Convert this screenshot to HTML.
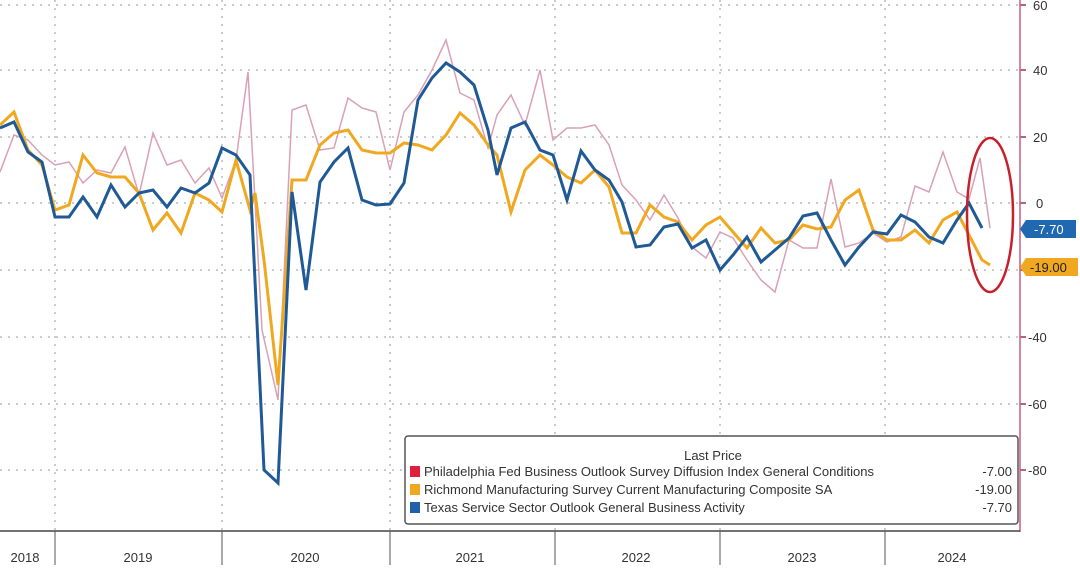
<!DOCTYPE html>
<html><head><meta charset="utf-8"><style>
body{margin:0;background:#fff;width:1080px;height:565px;overflow:hidden;font-family:"Liberation Sans",sans-serif}
</style></head><body>
<svg width="1080" height="565" xmlns="http://www.w3.org/2000/svg" font-family="Liberation Sans, sans-serif">
<g stroke="#bbb" stroke-width="1.5" stroke-dasharray="2,6">
<line x1="0" y1="5" x2="1020" y2="5"/><line x1="0" y1="70" x2="1020" y2="70"/><line x1="0" y1="137" x2="1020" y2="137"/><line x1="0" y1="203" x2="1020" y2="203"/><line x1="0" y1="270" x2="1020" y2="270"/><line x1="0" y1="337" x2="1020" y2="337"/><line x1="0" y1="404" x2="1020" y2="404"/><line x1="0" y1="470" x2="1020" y2="470"/>
<line x1="55" y1="0" x2="55" y2="530"/><line x1="222" y1="0" x2="222" y2="530"/><line x1="390" y1="0" x2="390" y2="530"/><line x1="555" y1="0" x2="555" y2="530"/><line x1="720" y1="0" x2="720" y2="530"/><line x1="885" y1="0" x2="885" y2="530"/>
</g>
<line x1="1020" y1="0" x2="1020" y2="532" stroke="#c06080" stroke-width="1.5"/>
<line x1="0" y1="531" x2="1020" y2="531" stroke="#444" stroke-width="1.5"/>
<g stroke="#555" stroke-width="1"><line x1="55" y1="531" x2="55" y2="565"/><line x1="222" y1="531" x2="222" y2="565"/><line x1="390" y1="531" x2="390" y2="565"/><line x1="555" y1="531" x2="555" y2="565"/><line x1="720" y1="531" x2="720" y2="565"/><line x1="885" y1="531" x2="885" y2="565"/></g>
<g font-size="13" fill="#333" text-anchor="middle"><text x="25" y="562">2018</text><text x="138" y="562">2019</text><text x="305" y="562">2020</text><text x="470" y="562">2021</text><text x="636" y="562">2022</text><text x="802" y="562">2023</text><text x="952" y="562">2024</text></g>
<g font-size="13" fill="#333"><text x="1033" y="10">60</text><text x="1033" y="75">40</text><text x="1033" y="142">20</text><text x="1036" y="208">0</text><text x="1028" y="275">-20</text><text x="1028" y="342">-40</text><text x="1028" y="409">-60</text><text x="1028" y="475">-80</text></g>
<g stroke="#c06080" stroke-width="2"><line x1="1020" y1="5" x2="1026" y2="5"/><line x1="1020" y1="70" x2="1026" y2="70"/><line x1="1020" y1="137" x2="1026" y2="137"/><line x1="1020" y1="203" x2="1026" y2="203"/><line x1="1020" y1="270" x2="1026" y2="270"/><line x1="1020" y1="337" x2="1026" y2="337"/><line x1="1020" y1="404" x2="1026" y2="404"/><line x1="1020" y1="470" x2="1026" y2="470"/></g>
<polyline fill="none" stroke="#d9a0b8" stroke-width="1.5" points="0,172 14,135 28,140 42,155 55,165 69,162 83,183 97,170 111,173 125,147 139,195 153,133 167,165 181,160 195,183 209,168 222,198 236,160 248,72 262,330 278,400 292,110 306,105 320,150 334,148 348,98 362,108 376,112 390,170 404,112 418,95 432,70 446,40 460,93 474,100 488,148 497,115 511,95 525,125 540,70 553,140 567,128 581,128 595,125 609,145 622,185 636,200 650,220 664,195 678,218 692,247 706,258 720,232 733,238 747,260 761,280 775,292 789,240 803,248 817,248 831,179 845,247 859,243 873,233 887,242 901,237 915,186 929,192 943,152 957,192 969,199 980,158 990,228"/>
<polyline fill="none" stroke="#f0a820" stroke-width="3" points="0,125 14,112 28,150 42,165 55,210 69,205 83,155 97,173 111,177 125,177 139,193 153,230 167,213 181,233 195,193 209,200 222,212 236,160 250,210 255,193 264,260 278,385 292,180 306,180 320,145 334,133 348,130 362,150 376,153 390,153 404,143 418,145 432,150 446,135 460,113 474,125 488,145 497,155 511,212 525,170 540,155 553,165 567,177 581,183 595,170 609,187 622,233 636,233 650,205 664,217 678,222 692,240 706,225 720,217 733,232 747,248 761,228 775,243 789,240 803,225 817,229 831,227 845,200 859,190 873,230 887,240 901,240 915,230 929,243 943,220 957,212 969,235 982,260 990,265"/>
<polyline fill="none" stroke="#1f5a96" stroke-width="3" points="0,128 14,122 28,152 42,162 55,217 69,217 83,197 97,217 111,185 125,207 139,193 153,190 167,207 181,188 195,193 209,183 222,148 236,155 250,175 264,470 278,483 292,192 306,290 320,182 334,162 348,148 362,200 376,205 390,204 404,183 418,100 432,78 446,63 460,72 474,85 488,130 497,175 511,128 525,122 540,150 553,155 567,200 581,151 595,170 609,180 622,202 636,247 650,245 664,227 678,224 692,248 706,240 720,270 733,255 747,237 761,262 775,250 789,238 803,216 817,213 831,240 845,265 859,247 873,232 887,234 901,215 915,222 929,237 943,243 957,220 969,203 982,228"/>
<ellipse cx="990" cy="215" rx="23" ry="77" fill="none" stroke="#c8202a" stroke-width="2.5"/>
<path d="M1020,229 l6,-9 h50 v18 h-50z" fill="#2068b0"/><text x="1034" y="234" font-size="13" fill="#fff">-7.70</text>
<path d="M1020,267 l6,-9 h52 v18 h-52z" fill="#f0a820"/><text x="1030" y="272" font-size="13" fill="#222">-19.00</text>
<rect x="405" y="436" width="613" height="88" rx="3" fill="#fff" stroke="#555" stroke-width="1.5"/>
<text x="713" y="460" font-size="13" fill="#333" text-anchor="middle">Last Price</text>
<rect x="410" y="466" width="10" height="11" fill="#e0203a"/><rect x="410" y="484" width="10" height="11" fill="#f0a820"/><rect x="410" y="502" width="10" height="11" fill="#2060a8"/>
<g font-size="13" fill="#333"><text x="424" y="476">Philadelphia Fed Business Outlook Survey Diffusion Index General Conditions</text><text x="424" y="494">Richmond Manufacturing Survey Current Manufacturing Composite SA</text><text x="424" y="512">Texas Service Sector Outlook General Business Activity</text></g>
<g font-size="13" fill="#333" text-anchor="end"><text x="1012" y="476">-7.00</text><text x="1012" y="494">-19.00</text><text x="1012" y="512">-7.70</text></g>
</svg>
</body></html>
